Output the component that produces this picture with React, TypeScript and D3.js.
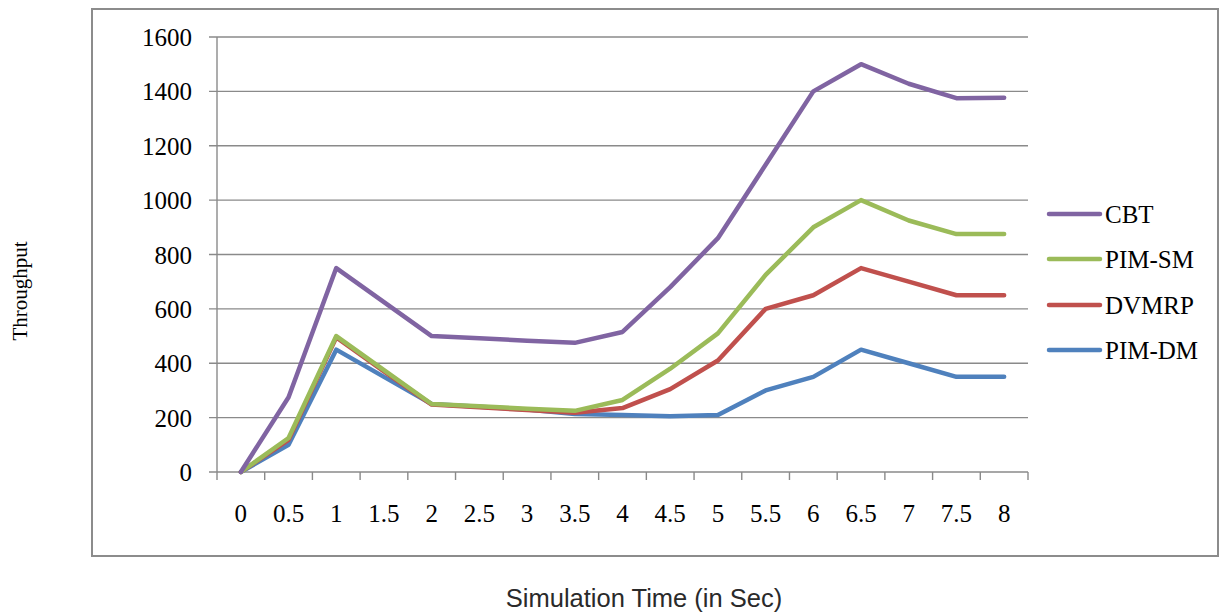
import React from "react";
import * as d3 from "d3";

// Simulation time categories (seconds)
const times = ["0", "0.5", "1", "1.5", "2", "2.5", "3", "3.5", "4", "4.5", "5", "5.5", "6", "6.5", "7", "7.5", "8"];

// Throughput per protocol
const cbt = [0, 275, 750, 625, 500, 492, 483, 475, 515, 680, 860, 1130, 1400, 1500, 1428, 1375, 1377];
const pimSm = [0, 125, 500, 375, 250, 242, 233, 225, 265, 380, 510, 725, 900, 1000, 925, 875, 875];
const dvmrp = [0, 118, 495, 370, 248, 238, 228, 218, 235, 305, 410, 600, 650, 750, 700, 650, 650];
const pimDm = [0, 100, 450, 350, 250, 240, 230, 213, 210, 205, 210, 300, 350, 450, 400, 350, 350];

const seriesNames = ["CBT", "PIM-SM", "DVMRP", "PIM-DM"];
const seriesValues = [cbt, pimSm, dvmrp, pimDm];
const seriesColors = ["#8064A2", "#9BBB59", "#C0504D", "#4F81BD"];

const yTicks = [0, 200, 400, 600, 800, 1000, 1200, 1400, 1600];

const W = 1225;
const H = 614;
const plot = { left: 217, right: 1028, top: 37, bottom: 472 };

export default function App() {
  const x = d3
    .scaleBand<string>()
    .domain(times)
    .range([plot.left, plot.right])
    .paddingInner(0)
    .paddingOuter(0);
  const y = d3.scaleLinear().domain([0, 1600]).range([plot.bottom, plot.top]);

  const cx = (t: string) => (x(t) as number) + x.bandwidth() / 2;
  const line = d3
    .line<number>()
    .x((_, i) => cx(times[i]))
    .y((v) => y(v));

  const boundaries = times.map((t) => x(t) as number).concat([plot.right]);
  const serif = "'Liberation Serif', 'Times New Roman', serif";
  const grid = "#8a8a8a";

  const legendY = [214, 259, 305, 350];

  return (
    <svg
      width={W}
      height={H}
      style={{ position: "absolute", left: 0, top: 0, background: "#fff" }}
    >
      {/* chart frame */}
      <rect x={92} y={9} width={1126} height={547} fill="none" stroke="#8c8c8c" strokeWidth={2} />

      {/* horizontal gridlines + y ticks */}
      {yTicks.map((v) => (
        <line
          key={"g" + v}
          x1={plot.left - 8}
          x2={plot.right}
          y1={y(v)}
          y2={y(v)}
          stroke={grid}
          strokeWidth={1.4}
        />
      ))}
      {/* y axis */}
      <line x1={plot.left} x2={plot.left} y1={plot.top} y2={plot.bottom} stroke={grid} strokeWidth={1.4} />
      {/* x ticks between categories */}
      {boundaries.map((bx, i) => (
        <line key={"xt" + i} x1={bx} x2={bx} y1={plot.bottom} y2={plot.bottom + 8} stroke={grid} strokeWidth={1.4} />
      ))}

      {/* y tick labels */}
      {yTicks.map((v) => (
        <text
          key={"yl" + v}
          x={192}
          y={y(v) + 9}
          textAnchor="end"
          fontFamily={serif}
          fontSize={25}
          fill="#000"
        >
          {v}
        </text>
      ))}

      {/* x tick labels */}
      {times.map((t) => (
        <text key={"xl" + t} x={cx(t)} y={522} textAnchor="middle" fontFamily={serif} fontSize={25} fill="#000">
          {t}
        </text>
      ))}

      {/* series lines, last legend entry drawn first */}
      {seriesValues
        .map((vals, i) => ({ vals, i }))
        .reverse()
        .map(({ vals, i }) => (
          <path
            key={"s" + i}
            d={line(vals) ?? ""}
            fill="none"
            stroke={seriesColors[i]}
            strokeWidth={4.5}
            strokeLinejoin="round"
            strokeLinecap="round"
          />
        ))}

      {/* legend */}
      {seriesNames.map((name, i) => (
        <g key={"lg" + name}>
          <line
            x1={1049}
            x2={1100}
            y1={legendY[i]}
            y2={legendY[i]}
            stroke={seriesColors[i]}
            strokeWidth={4.5}
            strokeLinecap="round"
          />
          <text x={1105} y={legendY[i] + 9} fontFamily={serif} fontSize={25} fill="#000">
            {name}
          </text>
        </g>
      ))}

      {/* axis titles */}
      <text
        transform="translate(27,291) rotate(-90)"
        textAnchor="middle"
        fontFamily={serif}
        fontSize={21}
        fill="#000"
      >
        Throughput
      </text>
      <text
        x={644}
        y={607}
        textAnchor="middle"
        fontFamily="'Liberation Sans', Arial, sans-serif"
        fontSize={25.5}
        fill="#2a2a2a"
      >
        Simulation Time (in Sec)
      </text>
    </svg>
  );
}
